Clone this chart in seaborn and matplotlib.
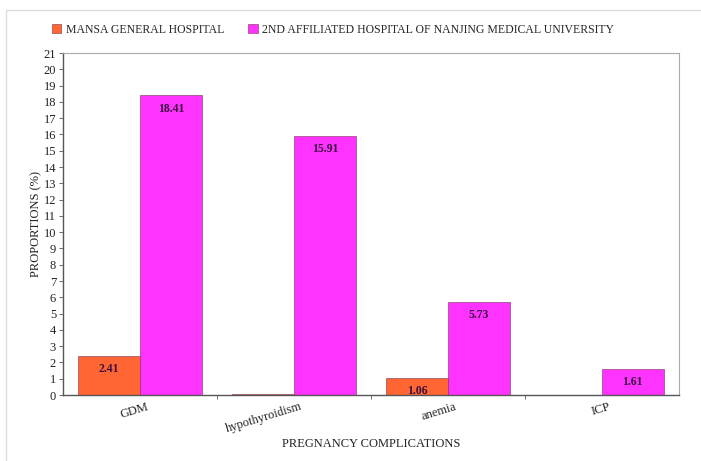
import matplotlib
matplotlib.use("Agg")
import matplotlib.pyplot as plt
import matplotlib.transforms as mtransforms
import seaborn as sns
import pandas as pd
import numpy as np
from matplotlib.lines import Line2D
from matplotlib.patches import Patch

categories = ["GDM", "hypothyroidism", "anemia", "ICP"]
series_names = ["MANSA GENERAL HOSPITAL", "2ND AFFILIATED HOSPITAL OF NANJING MEDICAL UNIVERSITY"]
mansa = [2.41, 0.08, 1.06, 0.0]
nanjing = [18.41, 15.91, 5.73, 1.61]
mansa_labels = ["2.41", "", "1.06", ""]
nanjing_labels = ["18.41", "15.91", "5.73", "1.61"]
yticks = list(range(0, 22))
colors = ["#FF6633", "#FF33FF"]

df = pd.DataFrame({
    "Complication": categories * 2,
    "Hospital": [series_names[0]] * 4 + [series_names[1]] * 4,
    "Value": mansa + nanjing,
})

sns.set_theme(style="white")
plt.rcParams["font.family"] = ["Liberation Serif", "DejaVu Serif"]

fig = plt.figure(figsize=(7.01, 4.61), dpi=100)
ax = fig.add_axes([0.0899, 0.143, 0.8787, 0.742])
sns.barplot(data=df, x="Complication", y="Value", hue="Hospital", order=categories,
            hue_order=series_names, palette=colors, width=0.8, saturation=1,
            edgecolor="#7a3050", linewidth=0.4, ax=ax, legend=False)

ax.set_xlim(-0.5, 3.5)
ax.set_ylim(0, 21)
ax.set_yticks(yticks)
ax.set_yticklabels([str(t) for t in yticks], fontsize=9, color="#222222")
ax.tick_params(axis="y", which="major", left=True, length=3, width=0.6, color="#555555", pad=2)
ax.set_xticks(range(len(categories)))
ax.set_xticklabels(categories, rotation=17, ha="right", fontsize=9, color="#222222")
ax.tick_params(axis="x", which="major", length=0, pad=4)
offset = mtransforms.ScaledTranslation(10 / 100, 0, fig.dpi_scale_trans)
for lbl in ax.get_xticklabels():
    lbl.set_transform(lbl.get_transform() + offset)
ax.set_xticks([0.5, 1.5, 2.5], minor=True)
ax.tick_params(axis="x", which="minor", bottom=True, length=3, width=0.6, color="#555555")

for side in ["left", "bottom"]:
    ax.spines[side].set_color("#555555")
    ax.spines[side].set_linewidth(1.0)
for side in ["top", "right"]:
    ax.spines[side].set_color("#aaaaaa")
    ax.spines[side].set_linewidth(0.8)

for container, labels in zip(ax.containers, [mansa_labels, nanjing_labels]):
    ax.bar_label(container, labels=labels, label_type="edge", padding=-14,
                 fontsize=8.5, fontweight="bold", color="#3a1040")

ax.set_xlabel("PREGNANCY COMPLICATIONS", fontsize=9, color="#222222", labelpad=2)
ax.set_ylabel("PROPORTIONS (%)", fontsize=9, color="#222222", labelpad=1)

handles = [Patch(facecolor=c, edgecolor="#7a3050", linewidth=0.4) for c in colors]
fig.legend(handles, series_names, loc="center left", bbox_to_anchor=(0.059, 0.935),
           ncol=2, frameon=False, fontsize=8.5, handlelength=0.8, handleheight=0.8,
           columnspacing=2.0, handletextpad=0.4)

fig.add_artist(Line2D([0.008, 0.008], [0.0, 0.978], color="#dddddd", lw=1, transform=fig.transFigure))
fig.add_artist(Line2D([0.008, 1.0], [0.978, 0.978], color="#dddddd", lw=1, transform=fig.transFigure))

fig.savefig("out.png", dpi=100)
